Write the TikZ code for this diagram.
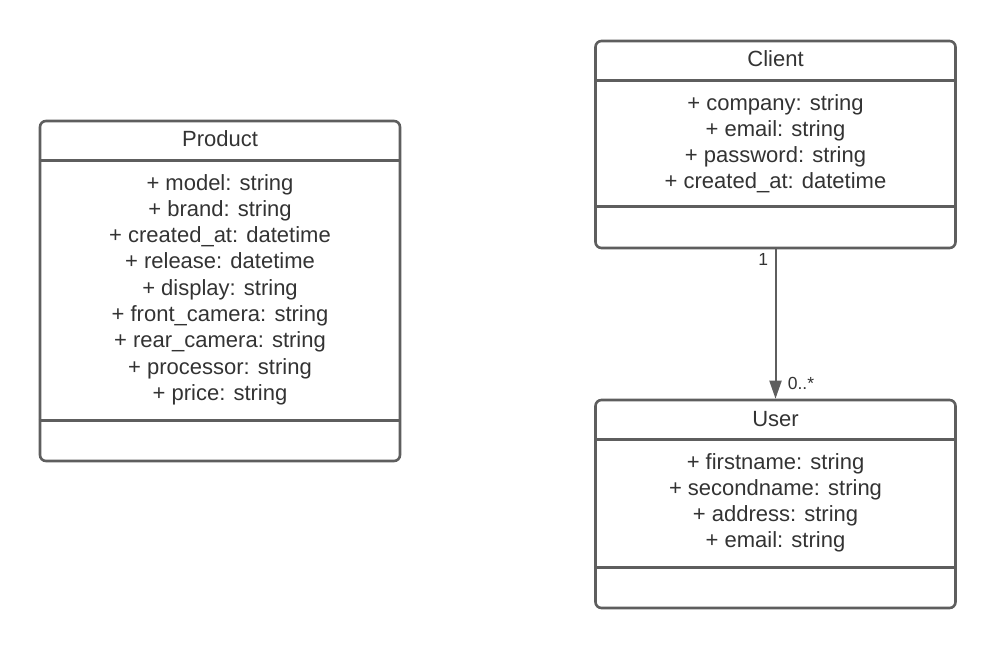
\documentclass[tikz,border=0pt]{standalone}
\usepackage{fontspec}
\setmainfont{Liberation Sans}
\usetikzlibrary{arrows.meta}
\definecolor{umlline}{HTML}{5E5E5E}
\definecolor{umltext}{HTML}{333333}

\tikzset{
  classbox/.style={draw=umlline, line width=2.6pt, rounded corners=6pt, inner sep=0pt},
  sepline/.style={draw=umlline, line width=2.6pt},
  title/.style={anchor=base, text=umltext, font=\fontsize{22}{26}\selectfont},
  attr/.style={anchor=base, text=umltext, font=\fontsize{22}{26}\selectfont},
  mult/.style={text=umltext, font=\fontsize{17.5}{20}\selectfont},
}

\begin{document}
\begin{tikzpicture}[x=1pt,y=-1pt]
    \useasboundingbox (0,0) rectangle (995,648);
    \def\ls{26.3}
    % Product
    \node[classbox, minimum width=360pt, minimum height=340pt] (product) at (220,291) {};
    \draw[sepline] ([yshift=-41pt]product.north west) -- ([yshift=-41pt]product.north east);
    \draw[sepline] ([yshift=42pt]product.south west) -- ([yshift=42pt]product.south east);
    \node[title] (producttitle) at (220,146) {Product};
    \foreach \a [count=\i] in {+ model: string, + brand: string, + created\_at: datetime,
        + release: datetime, + display: string, + front\_camera: string,
        + rear\_camera: string, + processor: string, + price: string}
      \node[attr] (product-\i) at (220,{190+\ls*(\i-1)}) {\a};
    % Client
    \node[classbox, minimum width=360pt, minimum height=207pt] (client) at (775.5,144.5) {};
    \draw[sepline] ([yshift=-41pt]client.north west) -- ([yshift=-41pt]client.north east);
    \draw[sepline] ([yshift=43pt]client.south west) -- ([yshift=43pt]client.south east);
    \node[title] (clienttitle) at (775.5,66) {Client};
    \foreach \a [count=\i] in {+ company: string, + email: string, + password: string,
        + created\_at: datetime}
      \node[attr] (client-\i) at (775.5,{110+\ls*(\i-1)}) {\a};
    % User
    \node[classbox, minimum width=360pt, minimum height=208pt] (user) at (775.5,504) {};
    \draw[sepline] ([yshift=-41pt]user.north west) -- ([yshift=-41pt]user.north east);
    \draw[sepline] ([yshift=42pt]user.south west) -- ([yshift=42pt]user.south east);
    \node[title] (usertitle) at (775.5,426) {User};
    \foreach \a [count=\i] in {+ firstname: string, + secondname: string, + address: string,
        + email: string}
      \node[attr] (user-\i) at (775.5,{469+\ls*(\i-1)}) {\a};
    % association
    \draw[umlline, line width=2pt, -{Triangle[length=18pt,width=12pt]}] (client.south) -- (user.north)
      node[mult, pos=0.065, left=3pt] (multone) {1}
      node[mult, pos=0.9, right=8pt] (multmany) {0..*};
\end{tikzpicture}
\end{document}
